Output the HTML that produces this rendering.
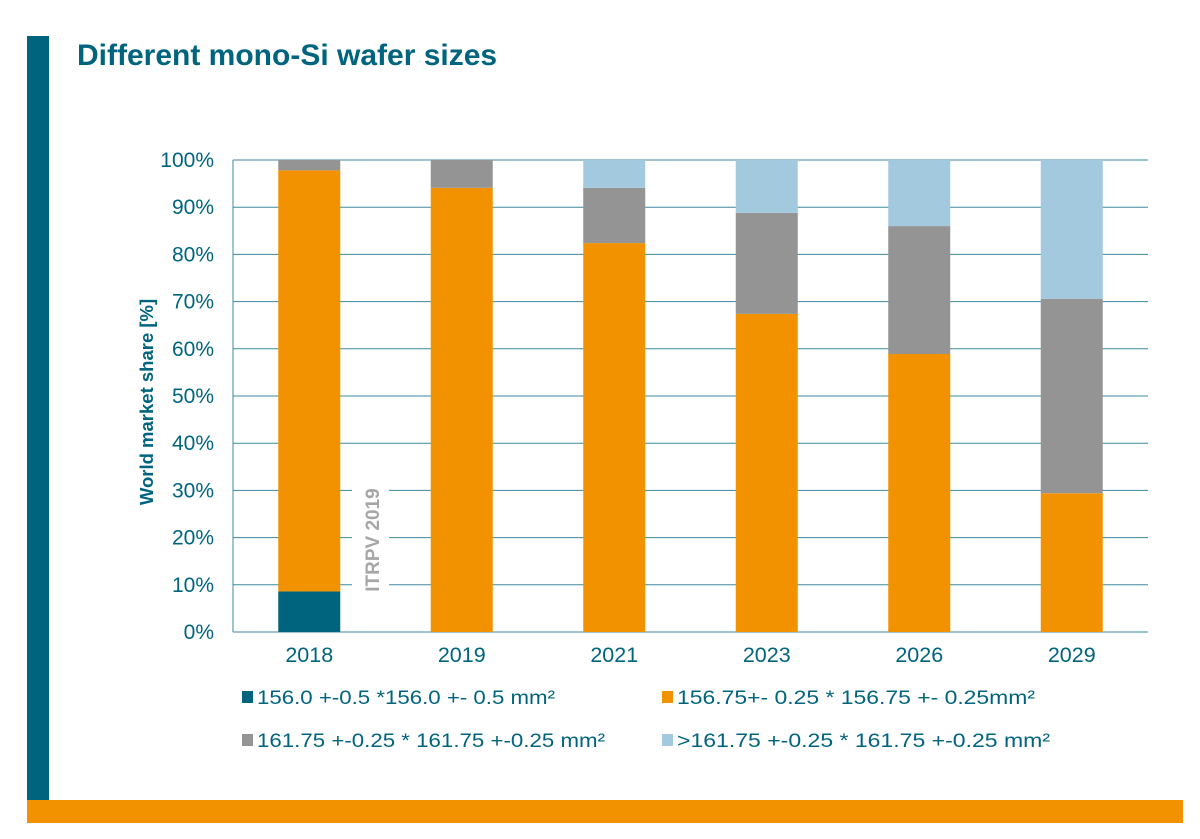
<!DOCTYPE html>
<html><head><meta charset="utf-8"><style>
html,body{margin:0;padding:0;background:#fff;}
svg{display:block;font-family:"Liberation Sans",Arial,sans-serif;}
</style></head><body>
<svg id="c" width="1200" height="839" viewBox="0 0 1200 839">
<rect x="27" y="36" width="22" height="764" fill="#00647f"/>
<rect x="27" y="800" width="1156" height="23" fill="#f39200"/>
<text x="77" y="65" font-size="30" font-weight="bold" fill="#00647f">Different mono-Si wafer sizes</text>
<g id="grid"></g><g id="bars"></g>
<rect x="352" y="478" width="37" height="122" fill="#fff"/>
<text transform="translate(379,540) rotate(-90)" text-anchor="middle" font-size="19" font-weight="bold" fill="#a6a6a6">ITRPV 2019</text>
<text transform="translate(153,402) rotate(-90)" text-anchor="middle" font-size="18.5" font-weight="bold" fill="#00647f">World market share [%]</text>
<g id="legend"></g>
</svg>
<script>
const categories=["2018","2019","2021","2023","2026","2029"];
const s156_0=[8.6,0,0,0,0,0];
const s156_75=[89.2,94.1,82.4,67.4,58.9,29.4];
const s161_75=[2.2,5.9,11.7,21.4,27.1,41.2];
const sOver161=[0,0,5.9,11.2,14,29.4];
const yTicks=[0,10,20,30,40,50,60,70,80,90,100];
const seriesNames=["156.0 +-0.5 *156.0 +- 0.5 mm²","156.75+- 0.25 * 156.75 +- 0.25mm²","161.75 +-0.25 * 161.75 +-0.25 mm²",">161.75 +-0.25 * 161.75 +-0.25 mm²"];
const NS="http://www.w3.org/2000/svg";
const L=233,R=1148,T=160,B=632;
const colors=["#00647f","#f39200","#949494","#a3c9df"];
const series=[s156_0,s156_75,s161_75,sOver161];
const y=v=>B-(B-T)*v/100;
const band=(R-L)/categories.length;
const xc=i=>L+band*(i+0.5);
const bw=62;
function mk(tag,attrs,parent){const e=document.createElementNS(NS,tag);for(const k in attrs)e.setAttribute(k,attrs[k]);parent.appendChild(e);return e;}
const grid=document.getElementById('grid');
yTicks.forEach(t=>{
  const ln=mk('line',{x1:L,x2:R,y1:y(t),y2:y(t),stroke:"#3d8aa0","stroke-width":1},grid);
  
  
  const tx=mk('text',{x:214,y:y(t)+7,"text-anchor":"end","font-size":21,fill:"#00647f"},grid);
  tx.textContent=t+"%";
  
  
});
const ax=mk('line',{x1:L,x2:L,y1:T,y2:B,stroke:"#3d8aa0","stroke-width":1},grid);


const bars=document.getElementById('bars');
categories.forEach((c,i)=>{
  let acc=0;
  series.forEach((s,k)=>{
    const v=s[i]; if(v<=0){return;}
    const r=mk('rect',{x:xc(i)-bw/2,y:y(acc+v),width:bw,height:y(acc)-y(acc+v),fill:colors[k]},bars);
    
    
    acc+=v;
  });
  const tx=mk('text',{x:xc(i),y:662,"text-anchor":"middle","font-size":21.5,fill:"#00647f"},bars);
  tx.textContent=c;
  
  
});
const lg=document.getElementById('legend');
const pos=[[242,704],[662,704],[242,747],[662,747]];
const lw=[298,358,348,373];
seriesNames.forEach((n,k)=>{
  const g=mk('g',{},lg);
  
  
  mk('rect',{x:pos[k][0],y:pos[k][1]-13,width:11,height:12,fill:colors[k]},g);
  const t=mk('text',{x:pos[k][0]+15,y:pos[k][1],"font-size":19,fill:"#00647f",textLength:lw[k],lengthAdjust:"spacingAndGlyphs"},g);
  t.textContent=n;
});
</script>
</body></html>
